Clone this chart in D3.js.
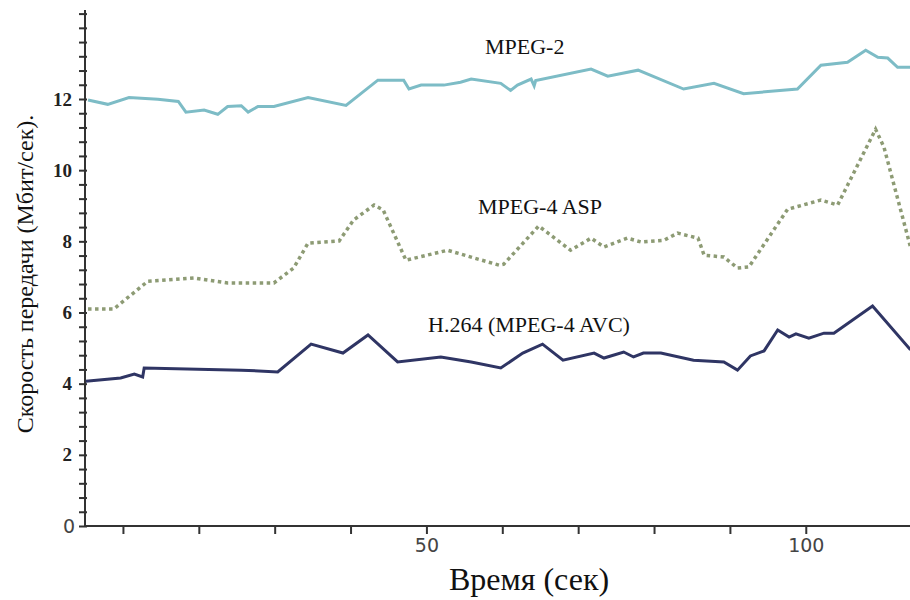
<!DOCTYPE html>
<html>
<head>
<meta charset="utf-8">
<script src="https://cdn.jsdelivr.net/npm/d3@7"></script>
<style>
  body { margin: 0; background: #fff; }
  svg { display: block; }
  .serif { font-family: "Liberation Serif", "Times New Roman", "DejaVu Serif", serif; }
  .sans { font-family: "DejaVu Sans", sans-serif; }
</style>
</head>
<body>
<div id="chart"></div>
<script>
// time (sec) and bitrate (Mbit/s)
var mpeg2Time = [5.4, 8.0, 10.8, 14.6, 17.3, 18.3, 20.7, 22.5, 23.8, 25.6, 26.5, 27.8, 29.9, 34.4, 39.4, 43.6, 47.0, 47.7, 49.3, 52.3, 54.5, 55.9, 59.8, 61.1, 62.0, 63.8, 64.2, 64.4, 71.7, 73.9, 77.9, 83.9, 87.9, 91.8, 98.9, 102.0, 105.5, 107.9, 109.5, 110.8, 112.1, 113.8];
var mpeg2Rate = [11.97, 11.85, 12.04, 11.99, 11.93, 11.63, 11.69, 11.57, 11.79, 11.81, 11.63, 11.79, 11.79, 12.04, 11.82, 12.53, 12.53, 12.28, 12.39, 12.39, 12.47, 12.56, 12.44, 12.24, 12.39, 12.56, 12.37, 12.52, 12.84, 12.64, 12.81, 12.28, 12.44, 12.15, 12.28, 12.95, 13.03, 13.37, 13.17, 13.15, 12.89, 12.89];

var aspTime = [5.4, 8.8, 13.3, 19.4, 23.8, 29.9, 32.5, 34.4, 38.5, 40.4, 43.1, 44.3, 47.3, 52.8, 56.3, 59.6, 60.2, 64.8, 69.0, 71.7, 73.4, 76.5, 78.3, 81.3, 83.1, 85.8, 86.6, 89.2, 91.0, 92.5, 97.6, 102.0, 104.2, 109.2, 110.3, 113.8];
var aspRate = [6.10, 6.10, 6.88, 6.97, 6.83, 6.83, 7.25, 7.95, 8.01, 8.60, 9.02, 8.88, 7.47, 7.75, 7.53, 7.33, 7.36, 8.43, 7.75, 8.09, 7.84, 8.09, 7.98, 8.03, 8.23, 8.09, 7.61, 7.56, 7.25, 7.28, 8.90, 9.16, 9.02, 11.15, 10.65, 7.84];

var avcTime = [5.1, 9.7, 11.5, 12.6, 12.8, 25.6, 30.4, 34.8, 39.0, 42.3, 46.2, 51.9, 55.9, 59.8, 62.7, 65.3, 68.0, 72.1, 73.4, 76.0, 77.3, 78.6, 80.9, 85.2, 89.2, 91.0, 92.7, 94.5, 96.3, 97.8, 98.7, 100.4, 102.4, 103.7, 108.8, 113.8];
var avcRate = [4.07, 4.16, 4.27, 4.19, 4.44, 4.38, 4.33, 5.11, 4.86, 5.37, 4.61, 4.75, 4.61, 4.44, 4.86, 5.11, 4.66, 4.86, 4.72, 4.89, 4.75, 4.86, 4.86, 4.66, 4.61, 4.38, 4.78, 4.92, 5.51, 5.31, 5.40, 5.28, 5.42, 5.42, 6.18, 4.95];

var seriesNames = ["MPEG-2", "MPEG-4 ASP", "H.264 (MPEG-4 AVC)"];
var xLabelTicks = [50, 100];
var yLabelTicks = [2, 4, 6, 8, 10, 12];

var w = 910, h = 600;

var svg = d3.select("#chart").append("svg")
            .attr("width", w)
            .attr("height", h);

var xScale = d3.scaleLinear().domain([5, 114]).range([85, 912]);
var yScale = d3.scaleLinear().domain([0, 12]).range([526, 99]);

var toPoints = function(t, v) { return t.map(function(d, i) { return [d, v[i]]; }); };

// y axis with minor ticks every 0.4
var yTicks = d3.range(0, 37).map(function(i) { return +(i * 0.4).toFixed(1); });
var yAxisGroup = svg.append("g")
                    .attr("transform", "translate(" + xScale(5) + ",0)")
                    .call(d3.axisLeft(yScale).tickValues(yTicks).tickSizeOuter(0).tickFormat(""));
yAxisGroup.select(".domain").attr("stroke", "#333").attr("stroke-width", 2)
          .attr("d", "M0," + yScale(0) + "V" + yScale(14.5));
yAxisGroup.selectAll(".tick line").attr("stroke", "#333").attr("stroke-width", 2)
          .attr("x1", 2).attr("x2", -6);

svg.append("g").selectAll("text")
   .data(yLabelTicks)
   .enter().append("text")
   .attr("class", "serif")
   .attr("x", 72)
   .attr("y", d => yScale(d))
   .attr("dy", "0.35em")
   .attr("text-anchor", "end")
   .style("font-weight", "bold")
   .style("font-size", "19px")
   .style("fill", "#222")
   .text(d => d);

svg.append("text")
   .attr("class", "sans")
   .attr("x", 75)
   .attr("y", yScale(0))
   .attr("dy", "0.36em")
   .attr("text-anchor", "end")
   .style("font-size", "19px")
   .style("fill", "#444")
   .text("0");

// x axis
var xAxisGroup = svg.append("g")
                    .attr("transform", "translate(0," + yScale(0) + ")")
                    .call(d3.axisBottom(xScale).tickValues(d3.range(10, 101, 10)).tickSizeOuter(0)
                            .tickFormat(d => xLabelTicks.indexOf(d) >= 0 ? d : ""));
xAxisGroup.select(".domain").attr("stroke", "#333").attr("stroke-width", 2)
          .attr("d", "M" + xScale(5) + ",0H" + w);
xAxisGroup.selectAll(".tick line").attr("stroke", "#333").attr("stroke-width", 2)
          .attr("y1", -1).attr("y2", 8);
xAxisGroup.selectAll(".tick text")
          .attr("class", "sans")
          .attr("y", 13)
          .style("font-size", "19px")
          .style("fill", "#444");
xAxisGroup.attr("font-family", null);
yAxisGroup.attr("font-family", null);

// lines
var line = d3.line().x(d => xScale(d[0])).y(d => yScale(d[1]));

svg.append("path")
   .datum(toPoints(mpeg2Time, mpeg2Rate))
   .attr("fill", "none")
   .attr("stroke", "#7dbcc6")
   .attr("stroke-width", 3)
   .attr("d", line);

svg.append("path")
   .datum(toPoints(aspTime, aspRate))
   .attr("fill", "none")
   .attr("stroke", "#8d9b74")
   .attr("stroke-width", 3.5)
   .attr("stroke-dasharray", "3.5,3.5")
   .attr("d", line);

svg.append("path")
   .datum(toPoints(avcTime, avcRate))
   .attr("fill", "none")
   .attr("stroke", "#2f3564")
   .attr("stroke-width", 3)
   .attr("d", line);

// series labels
var labelPos = [[485, 54], [478, 214], [428, 332]];
svg.append("g").selectAll("text")
   .data(seriesNames)
   .enter().append("text")
   .attr("class", "serif")
   .attr("x", (d, i) => labelPos[i][0])
   .attr("y", (d, i) => labelPos[i][1])
   .style("font-size", "22px")
   .style("fill", "#111")
   .text(d => d);

// axis titles
svg.append("text")
   .attr("class", "serif")
   .attr("x", 529)
   .attr("y", 590)
   .attr("text-anchor", "middle")
   .style("font-size", "32px")
   .style("fill", "#111")
   .text("Время (сек)");

svg.append("text")
   .attr("class", "serif")
   .attr("transform", "translate(33,274) rotate(-90)")
   .attr("text-anchor", "middle")
   .style("font-size", "24px")
   .style("fill", "#111")
   .text("Скорость передачи (Мбит/сек).");
</script>
</body>
</html>
